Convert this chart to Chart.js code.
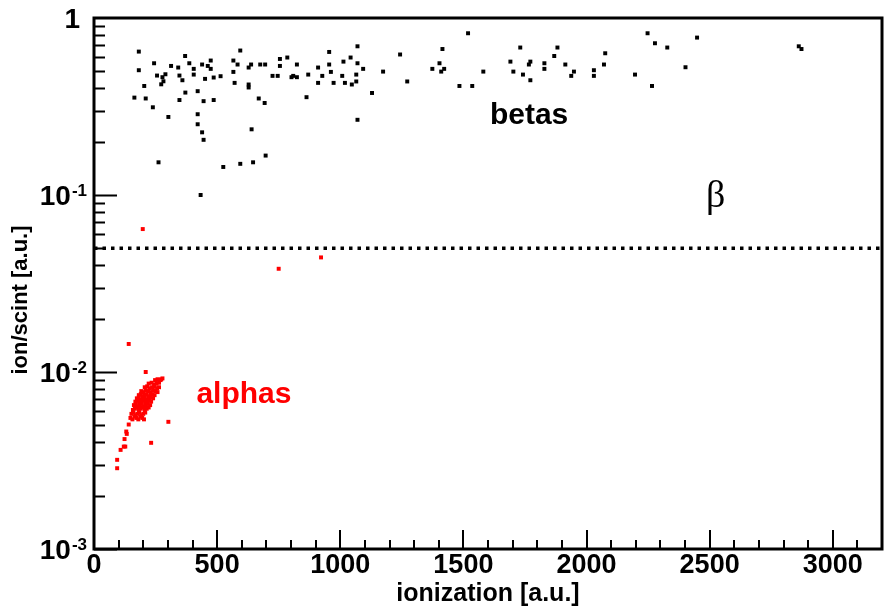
<!DOCTYPE html>
<html>
<head>
<meta charset="utf-8">
<script src="https://cdn.jsdelivr.net/npm/chart.js@4/dist/chart.umd.min.js"></script>
<style>
  html, body { margin: 0; padding: 0; background: #fff; }
  #wrap { width: 888px; height: 613px; }
</style>
</head>
<body>
<div id="wrap"><canvas id="plot" width="888" height="613"></canvas></div>
<script>
// beta events (black squares)
const betaX = [182, 182, 244, 204, 164, 210, 239, 256, 278, 290, 282, 273, 302, 262, 313, 342, 347, 359, 347, 371,
  370, 387, 405, 405, 421, 439, 445, 421, 421, 439, 445, 433, 451, 462, 474, 474, 486, 486, 514, 525,
  566, 566, 583, 594, 571, 594, 628, 638, 628, 628, 640, 646, 669, 693, 675, 695, 697, 725, 746, 755,
  755, 785, 802, 809, 824, 824, 863, 870, 910, 910, 927, 955, 955, 962, 973, 1008, 1013, 1019, 1042, 1047,
  1065, 1065, 1070, 1070, 1070, 1093, 1129, 1174, 1243, 1272, 1374, 1403, 1415, 1410, 1422, 1484, 1519, 1536, 1581, 1691,
  1703, 1731, 1742, 1766, 1772, 1772, 1829, 1829, 1869, 1882, 1914, 1938, 1949, 2030, 2030, 2071, 2076, 2197, 2248, 2266,
  2278, 2328, 2402, 2449, 2862, 2873];
const betaY = [0.646, 0.507, 0.555, 0.413, 0.355, 0.351, 0.313, 0.473, 0.463, 0.481, 0.439, 0.422, 0.276, 0.153, 0.536, 0.525, 0.473, 0.445, 0.344, 0.379,
  0.610, 0.555, 0.516, 0.479, 0.386, 0.546, 0.339, 0.286, 0.251, 0.226, 0.205, 0.100, 0.453, 0.536, 0.575, 0.516, 0.461, 0.344, 0.469, 0.144,
  0.575, 0.496, 0.546, 0.655, 0.430, 0.150, 0.525, 0.546, 0.421, 0.405, 0.235, 0.153, 0.351, 0.331, 0.546, 0.546, 0.167, 0.471, 0.471, 0.587,
  0.536, 0.598, 0.463, 0.471, 0.463, 0.546, 0.357, 0.479, 0.525, 0.430, 0.471, 0.643, 0.546, 0.496, 0.430, 0.471, 0.567, 0.430, 0.598, 0.421,
  0.438, 0.479, 0.555, 0.692, 0.266, 0.516, 0.377, 0.498, 0.622, 0.438, 0.516, 0.555, 0.668, 0.498, 0.516, 0.413, 0.820, 0.413, 0.498, 0.567,
  0.498, 0.681, 0.479, 0.546, 0.567, 0.445, 0.555, 0.516, 0.610, 0.681, 0.546, 0.471, 0.498, 0.507, 0.471, 0.546, 0.632, 0.479, 0.820, 0.413,
  0.720, 0.681, 0.527, 0.775, 0.692, 0.668];

// alpha events (red squares)
const alphaX = [198, 750, 922, 141, 210, 273, 302, 232, 141, 131, 133, 124, 127, 121, 108, 94, 94,
  148, 156, 165, 172, 180, 188, 196, 203,
  152, 160, 168, 176, 184, 192, 200, 208,
  158, 166, 174, 182, 190, 198, 206, 214, 222,
  162, 170, 178, 186, 194, 202, 210, 218, 228,
  168, 176, 184, 192, 200, 208, 216, 224, 232,
  174, 182, 190, 198, 206, 214, 222, 230, 240,
  182, 190, 198, 206, 214, 222, 230, 238, 246,
  192, 200, 210, 220, 230, 240, 250, 258,
  206, 216, 226, 236, 246, 256, 264,
  222, 234, 244, 254, 264,
  248, 258, 270, 278];
const alphaY = [0.0642, 0.0383, 0.0444, 0.0144, 0.0100, 0.0091, 0.00523, 0.00398, 0.00505, 0.00461, 0.00447, 0.00418, 0.00379, 0.00379, 0.00363, 0.00319, 0.00286,
  0.0055, 0.0054, 0.0056, 0.0055, 0.0054, 0.0056, 0.0055, 0.0054,
  0.0058, 0.0059, 0.0057, 0.0058, 0.0059, 0.0057, 0.0058, 0.0059,
  0.0061, 0.0062, 0.0063, 0.0061, 0.0062, 0.0063, 0.0061, 0.0062, 0.0063,
  0.0065, 0.0066, 0.0064, 0.0065, 0.0066, 0.0064, 0.0065, 0.0066, 0.0065,
  0.0068, 0.0069, 0.0067, 0.0068, 0.0069, 0.0067, 0.0068, 0.0069, 0.0068,
  0.0071, 0.0072, 0.0070, 0.0071, 0.0072, 0.0070, 0.0071, 0.0072, 0.0071,
  0.0074, 0.0075, 0.0073, 0.0074, 0.0075, 0.0073, 0.0074, 0.0075, 0.0074,
  0.0078, 0.0077, 0.0079, 0.0078, 0.0077, 0.0079, 0.0078, 0.0077,
  0.0082, 0.0083, 0.0081, 0.0082, 0.0083, 0.0081, 0.0082,
  0.0086, 0.0087, 0.0085, 0.0086, 0.0087,
  0.0090, 0.0091, 0.0090, 0.0092];

// ion/scint cut between the two populations
const cutX = [0, 3200];
const cutY = [0.05, 0.05];

const xTicks = [0, 500, 1000, 1500, 2000, 2500, 3000];
const yTicks = [0.001, 0.01, 0.1, 1];
const yTickBase = ['10', '10', '10', '1'];
const yTickExp = ['-3', '-2', '-1', ''];

const FONT = "'Liberation Sans', Arial, Helvetica, sans-serif";
const NARROW = "'Liberation Sans Narrow', 'Arial Narrow', 'Liberation Sans', sans-serif";

function toPoints(xs, ys) {
  return xs.map((x, i) => ({ x: x, y: ys[i] }));
}

// ROOT-like frame: inward ticks, thick box, exponent labels and the text notes
const rootFrame = {
  id: 'rootFrame',
  afterDraw(chart) {
    const c = chart.ctx;
    const a = chart.chartArea;
    const xs = chart.scales.x;
    const ys = chart.scales.y;
    c.save();
    c.strokeStyle = '#000';
    c.lineWidth = 2;
    c.beginPath();
    for (let v = 0; v <= xs.max; v += 100) {
      const px = Math.round(xs.getPixelForValue(v));
      const len = v % 500 === 0 ? 19 : 9;
      c.moveTo(px, a.bottom);
      c.lineTo(px, a.bottom - len);
    }
    for (let d = 0.001; d < 1; d *= 10) {
      for (let m = 1; m <= 9; m++) {
        const py = Math.round(ys.getPixelForValue(m * d)) + 0.5;
        const len = m === 1 ? 23 : 11;
        c.moveTo(a.left, py);
        c.lineTo(a.left + len, py);
      }
    }
    c.stroke();

    c.lineWidth = 3;
    c.strokeRect(a.left, a.top, a.right - a.left, a.bottom - a.top);

    // y tick labels with superscript exponents
    c.fillStyle = '#000';
    c.textBaseline = 'alphabetic';
    c.textAlign = 'right';
    yTicks.forEach((v, i) => {
      const py = ys.getPixelForValue(v);
      const right = a.left - 7;
      if (yTickExp[i]) {
        c.font = 'bold 17px ' + NARROW;
        const w = c.measureText(yTickExp[i]).width;
        c.fillText(yTickExp[i], right, py + 1);
        c.font = 'bold 28px ' + NARROW;
        c.fillText(yTickBase[i], right - w - 1, py + 10);
      } else {
        c.font = 'bold 28px ' + NARROW;
        c.fillText(yTickBase[i], right - 7, py + 10);
      }
    });

    // y axis title, centred a little below the middle as in the original
    c.save();
    c.translate(21, 300);
    c.rotate(-Math.PI / 2);
    c.textAlign = 'center';
    c.textBaseline = 'middle';
    c.font = 'bold 22px ' + FONT;
    c.fillText('ion/scint [a.u.]', 0, 0);
    c.restore();

    // population labels
    c.font = 'bold 30px ' + FONT;
    c.textAlign = 'center';
    c.textBaseline = 'middle';
    c.fillStyle = '#000';
    c.fillText('betas', xs.getPixelForValue(1767), ys.getPixelForValue(0.28));
    c.textAlign = 'left';
    c.textBaseline = 'alphabetic';
    c.fillStyle = '#ff0000';
    c.fillText('alphas', xs.getPixelForValue(416), ys.getPixelForValue(0.0067));
    c.font = "38px 'Liberation Serif', 'Times New Roman', serif";
    c.textAlign = 'center';
    c.textBaseline = 'middle';
    c.fillStyle = '#000';
    c.fillText('β', xs.getPixelForValue(2525), ys.getPixelForValue(0.097));
    c.restore();
  }
};

const ctx = document.getElementById('plot').getContext('2d');
const chart = new Chart(ctx, {
  type: 'scatter',
  data: {
    datasets: [
      {
        label: 'cut',
        type: 'line',
        data: toPoints(cutX, cutY),
        borderColor: '#000',
        borderWidth: 3.5,
        borderDash: [3.5, 5],
        borderCapStyle: 'butt',
        pointRadius: 0,
        fill: false
      },
      {
        label: 'betas',
        data: toPoints(betaX, betaY),
        pointStyle: 'rect',
        pointRadius: 2.8,
        borderWidth: 0,
        backgroundColor: '#000'
      },
      {
        label: 'alphas',
        data: toPoints(alphaX, alphaY),
        pointStyle: 'rect',
        pointRadius: 2.8,
        borderWidth: 0,
        backgroundColor: '#ff0000'
      }
    ]
  },
  options: {
    responsive: false,
    devicePixelRatio: 1,
    animation: false,
    layout: { padding: { top: 18, right: 6, left: 0, bottom: 0 } },
    plugins: {
      legend: { display: false },
      tooltip: { enabled: false }
    },
    scales: {
      x: {
        type: 'linear',
        min: 0,
        max: 3200,
        afterBuildTicks: scale => { scale.ticks = xTicks.map(v => ({ value: v })); },
        afterFit: scale => { scale.height = 64; },
        grid: { display: false, drawTicks: false },
        border: { display: false },
        ticks: {
          color: '#000',
          padding: 0,
          maxRotation: 0,
          callback: v => String(v),
          font: { family: NARROW, size: 27, weight: 'bold' }
        },
        title: {
          display: true,
          text: 'ionization [a.u.]',
          color: '#000',
          padding: { top: 0, bottom: 4 },
          font: { family: FONT, size: 25, weight: 'bold' }
        }
      },
      y: {
        type: 'logarithmic',
        min: 0.001,
        max: 1,
        afterBuildTicks: scale => { scale.ticks = yTicks.map(v => ({ value: v })); },
        afterFit: scale => { scale.width = 94; },
        grid: { display: false, drawTicks: false },
        border: { display: false },
        ticks: { display: false },
        title: { display: false, text: 'ion/scint [a.u.]' }
      }
    }
  },
  plugins: [rootFrame]
});
</script>
</body>
</html>
